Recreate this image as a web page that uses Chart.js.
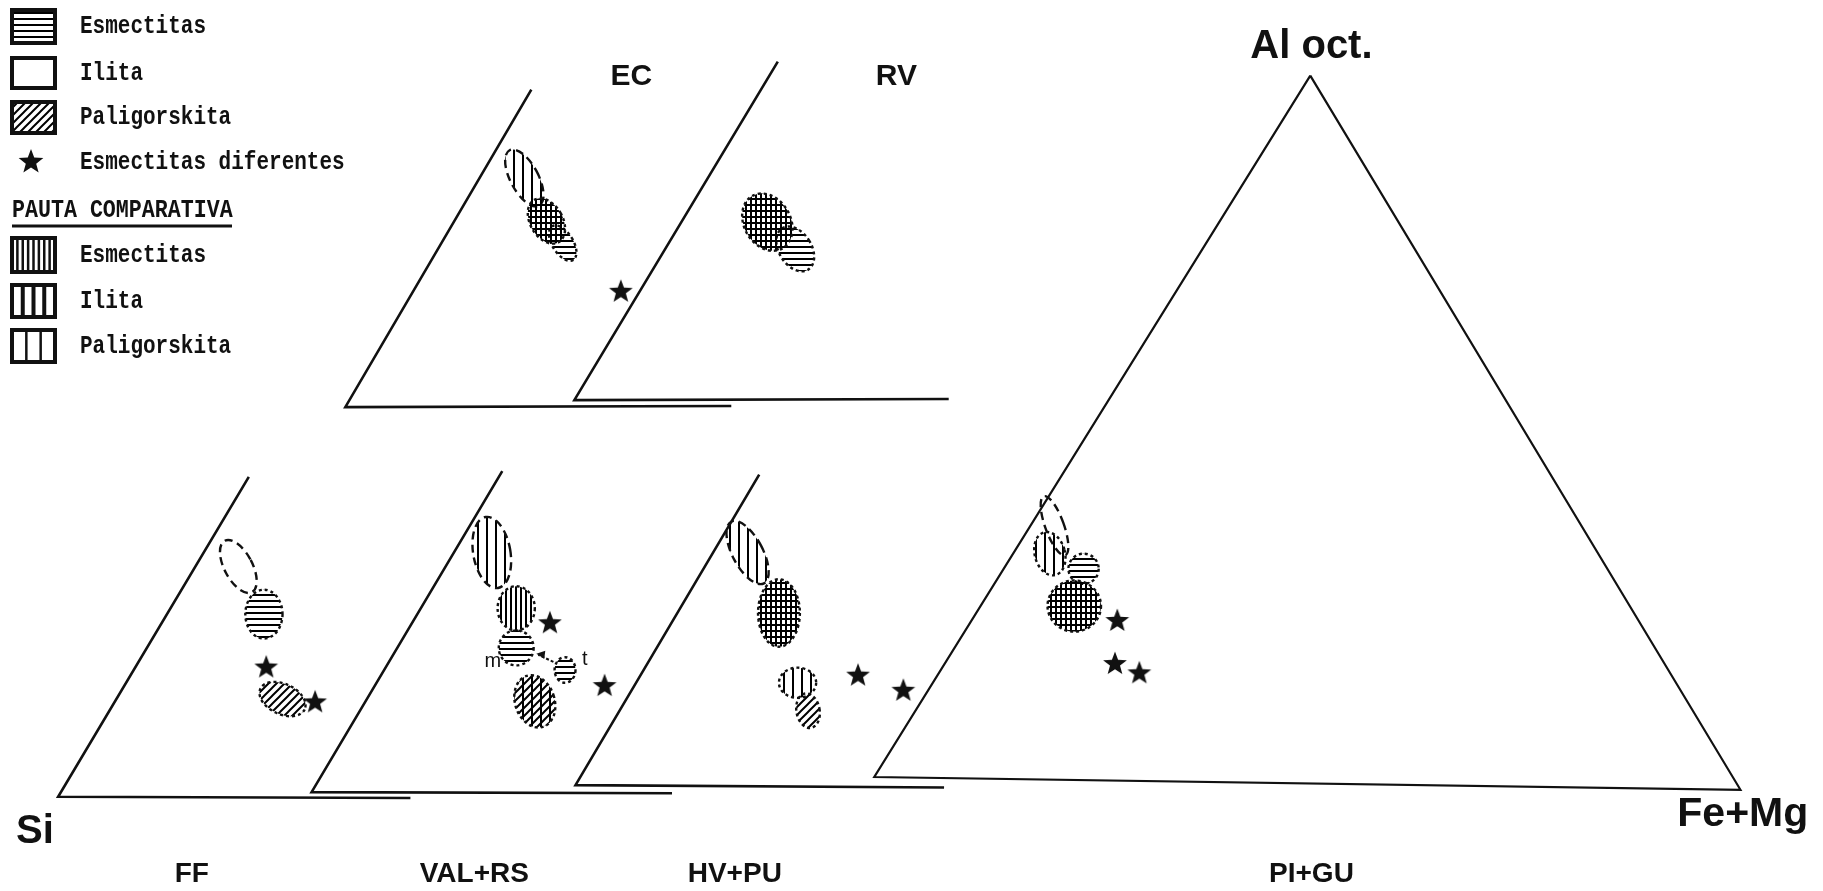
<!DOCTYPE html>
<html>
<head>
<meta charset="utf-8">
<script src="https://cdn.jsdelivr.net/npm/chart.js@4.4.0/dist/chart.umd.min.js"></script>
<style>
  html, body { margin: 0; padding: 0; background: #fff; }
  #wrap { width: 1823px; height: 891px; position: relative; }
</style>
</head>
<body>
<div id="wrap"><canvas id="plate"></canvas></div>
<script>
// plate coordinates: x to the right, y downwards (reference read at 1568 x 766)
const PLATE_W = 1568;
const PLATE_H = 766;

// triangle sides (open for the enlarged Si corners, closed for PI+GU)
const ecSideX = [457, 297, 629];
const ecSideY = [77, 350, 349];
const rvSideX = [669, 494, 816];
const rvSideY = [53, 344, 343];
const ffSideX = [214, 50, 353];
const ffSideY = [410, 685, 686];
const valSideX = [432, 268, 578];
const valSideY = [405, 681, 682];
const hvSideX = [653, 495, 812];
const hvSideY = [408, 675, 677];
const piSideX = [1127, 752, 1497, 1127];
const piSideY = [65, 668, 679, 65];

// "Esmectitas diferentes"
const starX = [534, 229, 271, 473, 520, 738, 777, 961, 959, 980];
const starY = [250, 573, 603, 535, 589, 580, 593, 533, 570, 578];

// fields: centre, half sizes, tilt (deg), pattern codes, outline
// h = esmectitas, d = paligorskita, v = pauta esmectitas, w = pauta ilita
const fieldX    = [451, 484, 470, 684, 660, 205, 227, 243, 423, 444, 444, 486, 460, 643, 670, 686, 695, 907, 903, 932, 924];
const fieldY    = [153, 209, 190, 214, 191, 487, 528, 601, 475, 523, 557, 576, 603, 475, 527, 587, 611, 452, 476, 489, 521];
const fieldRx   = [12, 9, 14, 14, 20, 12, 16, 21, 16, 16, 15, 9, 17, 13, 18, 16, 10, 8, 13, 13, 23];
const fieldRy   = [27, 17, 21, 21, 26, 25, 21, 13, 31, 19, 15, 11, 23, 30, 29, 13, 15, 27, 19, 13, 22];
const fieldTilt = [-28, -32, -30, -32, -30, -28, 0, 25, -10, 0, 0, 0, -18, -28, 0, 0, -10, -20, -15, 0, 0];
const fieldFill = ['w', 'h', 'hv', 'h', 'hv', '', 'h', 'd', 'w', 'v', 'h', 'h', 'dw', 'w', 'hv', 'w', 'd', '', 'w', 'h', 'hv'];
const fieldEdge = ['dash', 'dot', 'dot', 'dot', 'dot', 'dash', 'dot', 'dot', 'dash', 'dot', 'dot', 'dot', 'dot', 'dash', 'dot', 'dot', 'dot', 'dash', 'dot', 'dot', 'dot'];

// m <- t arrow in VAL+RS
const arrowX = [476, 463];
const arrowY = [569, 563];

// plate texts
const labelText = ['EC', 'RV', 'Al oct.', 'Fe+Mg', 'Si', 'FF', 'VAL+RS', 'HV+PU', 'PI+GU', 'm', 't'];
const labelX    = [543, 771, 1128, 1499, 30, 165, 408, 632, 1128, 424, 503];
const labelY    = [66, 66, 40, 700, 715, 752, 752, 752, 752, 569, 567];
const labelSize = [30, 30, 40, 41, 40, 28, 28, 28, 28, 20, 20];

// legend rows
const legendText = ['Esmectitas', 'Ilita', 'Paligorskita', 'Esmectitas diferentes',
                    'PAUTA COMPARATIVA', 'Esmectitas', 'Ilita', 'Paligorskita'];
const legendKey  = ['h', '', 'd', 'star', 'title', 'v7', 'v3', 'v2'];

function makePattern(ctx, code) {
  const c = document.createElement('canvas');
  const g = c.getContext('2d');
  g.fillStyle = '#111';
  g.strokeStyle = '#111';
  if (code === 'h') {
    c.width = 6; c.height = 6;
    g.fillRect(0, 0, 6, 2);
  } else if (code === 'v') {
    c.width = 5; c.height = 5;
    g.fillRect(0, 0, 2, 5);
  } else if (code === 'w') {
    c.width = 9; c.height = 9;
    g.fillRect(0, 0, 2, 9);
  } else if (code === 'd') {
    c.width = 8; c.height = 8;
    g.lineWidth = 2;
    g.beginPath();
    g.moveTo(0, 8); g.lineTo(8, 0);
    g.moveTo(-2, 2); g.lineTo(2, -2);
    g.moveTo(6, 10); g.lineTo(10, 6);
    g.stroke();
  }
  return ctx.createPattern(c, 'repeat');
}

function starPath(g, cx, cy, r) {
  g.beginPath();
  for (let k = 0; k < 10; k++) {
    const rr = k % 2 === 0 ? r : r * 0.42;
    const a = -Math.PI / 2 + k * Math.PI / 5;
    const px = cx + rr * Math.cos(a), py = cy + rr * Math.sin(a);
    if (k === 0) g.moveTo(px, py); else g.lineTo(px, py);
  }
  g.closePath();
}

const starImg = document.createElement('canvas');
starImg.width = 26; starImg.height = 26;
(function () {
  const g = starImg.getContext('2d');
  g.fillStyle = '#111';
  starPath(g, 13, 14, 12.5);
  g.fill();
})();

function side(xs, ys) {
  return xs.map((v, i) => ({ x: v, y: ys[i] }));
}

const lineStyle = {
  showLine: true,
  pointRadius: 0,
  borderColor: '#111',
  borderWidth: 2.6,
  tension: 0,
  fill: false,
};

const platePlugin = {
  id: 'platePlugin',
  beforeDatasetsDraw(chart) {
    const { ctx } = chart;
    const sx = chart.scales.x, sy = chart.scales.y;
    const pats = {};
    ['h', 'v', 'w', 'd'].forEach(k => { pats[k] = makePattern(ctx, k); });
    for (let i = 0; i < fieldX.length; i++) {
      const cx = sx.getPixelForValue(fieldX[i]);
      const cy = sy.getPixelForValue(fieldY[i]);
      const rx = Math.abs(sx.getPixelForValue(fieldX[i] + fieldRx[i]) - cx);
      const ry = Math.abs(sy.getPixelForValue(fieldY[i] + fieldRy[i]) - cy);
      ctx.save();
      ctx.beginPath();
      ctx.ellipse(cx, cy, rx, ry, fieldTilt[i] * Math.PI / 180, 0, Math.PI * 2);
      for (const code of fieldFill[i]) {
        ctx.fillStyle = pats[code];
        ctx.fill();
      }
      ctx.setLineDash(fieldEdge[i] === 'dash' ? [8, 5] : [3, 3]);
      ctx.lineWidth = 2.4;
      ctx.strokeStyle = '#111';
      ctx.stroke();
      ctx.restore();
    }
  },
  afterDatasetsDraw(chart) {
    const { ctx } = chart;
    const sx = chart.scales.x, sy = chart.scales.y;
    ctx.save();
    ctx.fillStyle = '#111';
    ctx.textAlign = 'center';
    ctx.textBaseline = 'middle';
    for (let i = 0; i < labelText.length; i++) {
      ctx.font = (labelSize[i] < 24 ? '' : 'bold ') + labelSize[i] + 'px "Liberation Sans", Arial, sans-serif';
      ctx.fillText(labelText[i], sx.getPixelForValue(labelX[i]), sy.getPixelForValue(labelY[i]));
    }
    // arrow head at m
    const ax = sx.getPixelForValue(arrowX[1]), ay = sy.getPixelForValue(arrowY[1]);
    ctx.beginPath();
    ctx.moveTo(ax - 2, ay - 1);
    ctx.lineTo(ax + 7, ay - 4);
    ctx.lineTo(ax + 6, ay + 4);
    ctx.closePath();
    ctx.fill();
    ctx.restore();

    // legend, top left
    ctx.save();
    ctx.strokeStyle = '#111';
    ctx.fillStyle = '#111';
    const rowsY = [10, 58, 102, 148, 196, 238, 285, 330];
    const rowsH = [33, 30, 31, 28, 28, 34, 32, 32];
    const pats = { h: makePattern(ctx, 'h'), d: makePattern(ctx, 'd') };
    for (let r = 0; r < legendText.length; r++) {
      const key = legendKey[r];
      const y0 = rowsY[r], h = rowsH[r];
      const bx = 12, bw = 43;
      if (key === 'star') {
        starPath(ctx, 31, y0 + 14, 13);
        ctx.fill();
      } else if (key !== 'title') {
        ctx.save();
        if (key === 'h' || key === 'd') {
          ctx.fillStyle = pats[key];
          ctx.fillRect(bx, y0, bw, h);
        }
        if (key[0] === 'v') {
          const n = +key.slice(1);
          ctx.lineWidth = key === 'v3' ? 4 : 2.5;
          for (let k = 1; k <= n; k++) {
            const xx = bx + k * bw / (n + 1);
            ctx.beginPath(); ctx.moveTo(xx, y0); ctx.lineTo(xx, y0 + h); ctx.stroke();
          }
        }
        ctx.lineWidth = 4;
        ctx.strokeRect(bx, y0, bw, h);
        ctx.restore();
      }
      ctx.save();
      ctx.font = 'bold 21px "Liberation Mono", "DejaVu Sans Mono", monospace';
      ctx.textBaseline = 'middle';
      ctx.textAlign = 'left';
      const tx = key === 'title' ? 12 : 80;
      const ty = y0 + h / 2;
      ctx.translate(tx, ty);
      ctx.scale(key === 'title' ? 1.03 : 1, 1.25);
      ctx.fillText(legendText[r], 0, 0);
      ctx.restore();
      if (key === 'title') {
        ctx.lineWidth = 3;
        ctx.beginPath(); ctx.moveTo(12, 226); ctx.lineTo(232, 226); ctx.stroke();
      }
    }
    ctx.restore();
  }
};

new Chart(document.getElementById('plate'), {
  type: 'scatter',
  data: {
    datasets: [
      Object.assign({ label: 'EC', data: side(ecSideX, ecSideY) }, lineStyle),
      Object.assign({ label: 'RV', data: side(rvSideX, rvSideY) }, lineStyle),
      Object.assign({ label: 'FF', data: side(ffSideX, ffSideY) }, lineStyle),
      Object.assign({ label: 'VAL+RS', data: side(valSideX, valSideY) }, lineStyle),
      Object.assign({ label: 'HV+PU', data: side(hvSideX, hvSideY) }, lineStyle),
      Object.assign({ label: 'PI+GU', data: side(piSideX, piSideY) }, lineStyle, { borderWidth: 2.2 }),
      Object.assign({ label: 'm-t', data: side(arrowX, arrowY) }, lineStyle, { borderWidth: 2, borderDash: [3, 2] }),
      {
        label: 'Esmectitas diferentes',
        data: side(starX, starY),
        pointStyle: starImg,
        pointRadius: 13,
        showLine: false,
        clip: false,
      },
    ],
  },
  options: {
    responsive: true,
    maintainAspectRatio: false,
    animation: false,
    devicePixelRatio: 1,
    layout: { padding: 0, autoPadding: false },
    plugins: { legend: { display: false }, tooltip: { enabled: false } },
    scales: {
      x: { type: 'linear', min: 0, max: PLATE_W, display: false },
      y: { type: 'linear', min: 0, max: PLATE_H, reverse: true, display: false },
    },
  },
  plugins: [platePlugin],
});
</script>
</body>
</html>
